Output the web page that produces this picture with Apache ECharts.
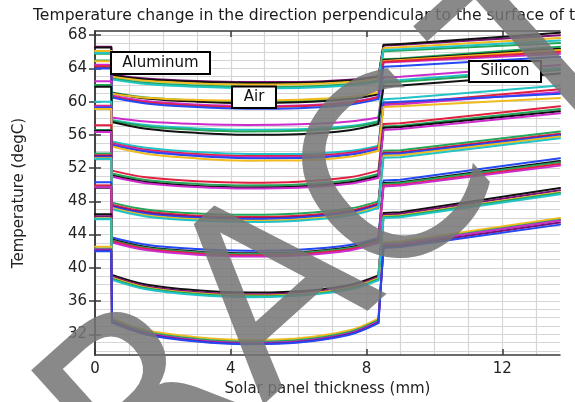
<!DOCTYPE html>
<html>
<head>
<meta charset="utf-8">
<script src="https://cdn.jsdelivr.net/npm/echarts@6/dist/echarts.min.js"></script>
<style>
  html, body { margin: 0; padding: 0; background: #fff; }
  #chart { width: 575px; height: 402px; }
</style>
</head>
<body>
<div id="chart"></div>
<script>
// Sample positions through the panel (mm): aluminium plate, air gap, silicon cell
const alX  = [0, 0.48];
const airX = [0.5, 1.5, 3, 4.5, 6, 7.5, 8.35];
const siX  = [8.5, 9, 13.7];

// Axis ticks and grid positions
const xTicks = [0, 4, 8, 12];
const yTicks = [32, 36, 40, 44, 48, 52, 56, 60, 64, 68];
const xGrid  = [0, 1, 2, 3, 4, 5, 6, 7, 8, 9, 10, 11, 12, 13];
const yGrid  = [30, 31, 32, 33, 34, 35, 36, 37, 38, 39, 40, 41, 42, 43, 44, 45, 46, 47, 48, 49,
                50, 51, 52, 53, 54, 55, 56, 57, 58, 59, 60, 61, 62, 63, 64, 65, 66, 67, 68];

// Line colour of every temperature profile
const profileColors = [
  'purple', 'black', 'yellow', 'green', 'cyan',
  'green', 'black', 'yellow', 'magenta', 'red', 'blue',
  'magenta', 'cyan', 'green', 'black',
  'cyan', 'red', 'magenta', 'blue', 'yellow',
  'red', 'green', 'black', 'magenta',
  'green', 'red', 'purple', 'blue', 'yellow', 'cyan',
  'blue', 'black', 'green', 'red', 'magenta',
  'black', 'purple', 'yellow', 'green', 'cyan',
  'yellow', 'green', 'magenta', 'purple', 'blue'
];

// Temperature in the aluminium plate (degC)
const alTemps = [
  66.6, 66.5, 66.1, 65.75, 65.85,
  64.95, 64.2, 64.85, 64.45, 64.25, 64.0,
  62.45, 61.9, 62.0, 61.8,
  60.0, 59.5, 59.4, 59.3, 59.1,
  57.15, 56.6, 56.5, 56.35,
  53.75, 53.55, 53.45, 53.3, 53.2, 53.1,
  50.3, 49.65, 49.75, 49.9, 49.7,
  46.45, 46.2, 45.95, 45.9, 45.85,
  42.55, 42.3, 42.2, 42.1, 42.0
];

// Temperature across the air gap at airX (degC)
const airTemps = [
  [63.25, 62.79, 62.48, 62.35, 62.37, 62.63, 63.05],
  [63.15, 62.69, 62.38, 62.25, 62.27, 62.53, 62.95],
  [63.0, 62.51, 62.19, 62.05, 62.08, 62.35, 62.8],
  [62.8, 62.27, 61.93, 61.77, 61.8, 62.08, 62.55],
  [62.65, 62.12, 61.78, 61.62, 61.65, 61.93, 62.4],

  [61.1, 60.49, 60.12, 59.97, 60.05, 60.45, 61.05],
  [61.0, 60.38, 60.0, 59.85, 59.92, 60.31, 60.9],
  [60.95, 60.47, 60.21, 60.13, 60.23, 60.59, 61.1],
  [60.75, 60.07, 59.65, 59.47, 59.54, 59.96, 60.6],
  [60.6, 59.93, 59.51, 59.35, 59.43, 59.85, 60.5],
  [60.5, 59.79, 59.34, 59.15, 59.21, 59.63, 60.3],

  [58.1, 57.61, 57.31, 57.2, 57.27, 57.61, 58.1],
  [57.8, 57.18, 56.78, 56.62, 56.68, 57.06, 57.65],
  [57.7, 57.02, 56.6, 56.42, 56.49, 56.91, 57.55],
  [57.55, 56.75, 56.24, 56.02, 56.09, 56.56, 57.3],

  [55.2, 54.45, 53.94, 53.7, 53.7, 54.07, 54.7],
  [55.0, 54.22, 53.7, 53.45, 53.45, 53.84, 54.5],
  [54.9, 54.09, 53.55, 53.3, 53.31, 53.71, 54.4],
  [54.8, 53.99, 53.45, 53.2, 53.21, 53.61, 54.3],
  [54.6, 53.74, 53.17, 52.9, 52.92, 53.36, 54.1],

  [51.7, 50.9, 50.42, 50.25, 50.37, 50.9, 51.7],
  [51.35, 50.57, 50.1, 49.92, 50.03, 50.54, 51.3],
  [51.1, 50.32, 49.85, 49.67, 49.78, 50.29, 51.05],
  [50.95, 50.19, 49.73, 49.55, 49.64, 50.12, 50.85],

  [47.85, 47.02, 46.53, 46.38, 46.53, 47.13, 48.0],
  [47.6, 46.77, 46.28, 46.13, 46.28, 46.88, 47.75],
  [47.45, 46.62, 46.13, 45.98, 46.13, 46.73, 47.6],
  [47.35, 46.52, 46.03, 45.88, 46.03, 46.63, 47.5],
  [47.2, 46.34, 45.84, 45.68, 45.83, 46.45, 47.35],
  [47.05, 46.19, 45.69, 45.53, 45.68, 46.3, 47.2],

  [43.65, 42.79, 42.27, 42.07, 42.19, 42.75, 43.6],
  [43.4, 42.51, 41.98, 41.77, 41.89, 42.48, 43.35],
  [43.3, 42.41, 41.88, 41.67, 41.79, 42.38, 43.25],
  [43.2, 42.29, 41.73, 41.52, 41.65, 42.25, 43.15],
  [43.05, 42.14, 41.58, 41.37, 41.5, 42.1, 43.0],

  [39.15, 37.99, 37.29, 37.02, 37.18, 37.95, 39.1],
  [38.95, 37.79, 37.09, 36.82, 36.98, 37.75, 38.9],
  [38.8, 37.64, 36.94, 36.67, 36.83, 37.6, 38.75],
  [38.7, 37.54, 36.84, 36.57, 36.73, 37.5, 38.65],
  [38.55, 37.42, 36.73, 36.47, 36.63, 37.38, 38.5],

  [33.95, 32.51, 31.65, 31.32, 31.52, 32.48, 33.9],
  [33.75, 32.31, 31.45, 31.12, 31.32, 32.28, 33.7],
  [33.6, 32.16, 31.3, 30.97, 31.17, 32.13, 33.55],
  [33.5, 32.06, 31.2, 30.87, 31.07, 32.03, 33.45],
  [33.4, 31.99, 31.14, 30.82, 31.02, 31.95, 33.35]
];

// Temperature in the silicon layer at siX (degC)
const siTemps = [
  [66.75, 66.85, 68.0], [66.85, 66.95, 68.3], [66.45, 66.55, 67.65], [66.05, 66.15, 67.05], [66.2, 66.3, 67.35],
  [65.1, 65.2, 66.6], [65.0, 65.1, 66.35], [64.9, 65.0, 66.2], [64.7, 64.8, 65.75], [64.8, 64.9, 66.0], [64.2, 64.3, 65.4],
  [62.9, 63.0, 64.4], [62.5, 62.6, 64.05], [62.3, 62.4, 63.8], [61.85, 61.95, 63.4],
  [60.3, 60.4, 61.95], [59.7, 59.8, 61.5], [59.6, 59.7, 61.15], [59.9, 60.0, 60.95], [59.35, 59.45, 60.45],
  [57.3, 57.4, 59.45], [57.0, 57.1, 59.1], [56.85, 56.95, 58.85], [56.6, 56.7, 58.6],
  [54.1, 54.15, 56.4], [53.85, 53.9, 56.15], [53.75, 53.8, 56.0], [53.7, 53.75, 55.95], [53.5, 53.55, 55.8], [53.25, 53.3, 55.6],
  [50.5, 50.6, 53.2], [50.2, 50.3, 52.85], [50.1, 50.2, 52.7], [49.9, 50.0, 52.5], [49.8, 49.9, 52.3],
  [46.6, 46.7, 49.6], [46.4, 46.5, 49.35], [46.2, 46.3, 49.1], [46.1, 46.2, 49.0], [46.0, 46.1, 48.85],
  [43.1, 43.2, 46.0], [42.9, 43.0, 45.8], [42.8, 42.9, 45.7], [42.6, 42.7, 45.45], [42.4, 42.5, 45.2]
];

const palette = {
  blue: '#2448f2', green: '#22a65a', red: '#e0203e', cyan: '#22c3c6',
  magenta: '#cc2ccc', yellow: '#f0bb1e', black: '#111111', purple: '#7c1176'
};

const FONT = '"DejaVu Sans", "Liberation Sans", sans-serif';
const frame = { color: '#3a3a3a', width: 1.5 };
const gridLine = { color: '#d6d6d6', width: 1.2 };
const X_MIN = 0, X_MAX = 13.7, Y_MIN = 29.5, Y_MAX = 68.5;

const series = [];
profileColors.forEach((name, i) => {
  const base = {
    type: 'line', xAxisIndex: 0, yAxisIndex: 0, showSymbol: false, silent: true,
    animation: false, clip: true,
    lineStyle: { color: palette[name], width: 2, join: 'round', cap: 'round' }
  };
  // aluminium plate and the step into the air gap
  series.push(Object.assign({}, base, {
    data: [[alX[0], alTemps[i]], [alX[1], alTemps[i]], [airX[0], airTemps[i][0]]]
  }));
  // air gap profile
  series.push(Object.assign({}, base, {
    smooth: 0.35,
    data: airX.map((x, k) => [x, airTemps[i][k]])
  }));
  // step into the silicon and the silicon profile
  series.push(Object.assign({}, base, {
    data: [[airX[airX.length - 1], airTemps[i][airX.length - 1]]].concat(siX.map((x, k) => [x, siTemps[i][k]]))
  }));
});

const labelStyle = { fontSize: 15, color: '#222', fontFamily: FONT };

// Diagonal stamp: letters laid out along a line tilted by 42 degrees
const STAMP_ANGLE = 42 * Math.PI / 180;
const stampLetters = ['R', 'A', 'C', 'T'];
const stampOffsets = [-171, 0, 161, 358];   // distance along the tilted line (px)
const stampOrigin = [282, 301];
const stamp = stampLetters.map((ch, i) => ({
  type: 'text', z: 200,
  x: stampOrigin[0] + stampOffsets[i] * Math.cos(STAMP_ANGLE),
  y: stampOrigin[1] - stampOffsets[i] * Math.sin(STAMP_ANGLE),
  rotation: STAMP_ANGLE,
  style: { text: ch, fill: 'rgba(118,118,118,0.86)', font: '248px ' + FONT,
           align: 'center', verticalAlign: 'middle' }
}));

const chart = echarts.init(document.getElementById('chart'), null, { renderer: 'canvas' });
chart.setOption({
  animation: false,
  backgroundColor: '#fff',
  title: {
    text: 'Temperature change in the direction perpendicular to the surface of the solar panel',
    left: 28, top: 3,
    textStyle: { fontSize: 15.6, fontWeight: 'normal', color: '#1a1a1a', fontFamily: FONT }
  },
  grid: { left: 95, top: 31, width: 465, height: 328, containLabel: false },
  xAxis: [
    { // grid lines + bottom frame
      type: 'value', min: X_MIN, max: X_MAX, position: 'bottom',
      axisLine: { show: true, lineStyle: frame },
      axisTick: { show: false, customValues: xGrid },
      axisLabel: { show: false },
      splitLine: { show: true, lineStyle: gridLine }
    },
    { // labelled ticks
      type: 'value', min: X_MIN, max: X_MAX, position: 'bottom',
      name: 'Solar panel thickness (mm)', nameLocation: 'middle', nameGap: 21,
      nameTextStyle: labelStyle,
      axisLine: { show: false },
      axisTick: { show: true, inside: true, length: 6, customValues: xTicks, lineStyle: frame },
      axisLabel: Object.assign({ customValues: xTicks, margin: 7 }, labelStyle),
      splitLine: { show: false }
    },
    { // top frame
      type: 'value', min: X_MIN, max: X_MAX, position: 'top',
      axisLine: { show: true, lineStyle: frame },
      axisTick: { show: true, inside: true, length: 6, customValues: xTicks, lineStyle: frame },
      axisLabel: { show: false },
      splitLine: { show: false }
    }
  ],
  yAxis: [
    {
      type: 'value', min: Y_MIN, max: Y_MAX, position: 'left',
      axisLine: { show: true, lineStyle: frame },
      axisTick: { show: false, customValues: yGrid },
      axisLabel: { show: false },
      splitLine: { show: true, lineStyle: gridLine }
    },
    {
      type: 'value', min: Y_MIN, max: Y_MAX, position: 'left',
      name: 'Temperature (degC)', nameLocation: 'middle', nameGap: 68,
      nameTextStyle: labelStyle,
      axisLine: { show: false },
      axisTick: { show: true, inside: true, length: 6, customValues: yTicks, lineStyle: frame },
      axisLabel: Object.assign({ customValues: yTicks, margin: 8 }, labelStyle),
      splitLine: { show: false }
    },
    {
      type: 'value', min: Y_MIN, max: Y_MAX, position: 'right',
      axisLine: { show: true, lineStyle: frame },
      axisTick: { show: true, inside: true, length: 6, customValues: yTicks, lineStyle: frame },
      axisLabel: { show: false },
      splitLine: { show: false }
    }
  ],
  series: series,
  graphic: [
    { type: 'rect', z: 100, shape: { x: 111, y: 52, width: 99, height: 22 },
      style: { fill: '#fff', stroke: '#000', lineWidth: 2 } },
    { type: 'text', z: 101, x: 160.5, y: 63,
      style: { text: 'Aluminum', fill: '#111', font: '15px ' + FONT, align: 'center', verticalAlign: 'middle' } },
    { type: 'rect', z: 100, shape: { x: 232, y: 86.5, width: 44, height: 21.5 },
      style: { fill: '#fff', stroke: '#000', lineWidth: 2 } },
    { type: 'text', z: 101, x: 254, y: 97.5,
      style: { text: 'Air', fill: '#111', font: '15px ' + FONT, align: 'center', verticalAlign: 'middle' } },
    { type: 'rect', z: 100, shape: { x: 469, y: 61, width: 72, height: 21 },
      style: { fill: '#fff', stroke: '#000', lineWidth: 2 } },
    { type: 'text', z: 101, x: 505, y: 71.5,
      style: { text: 'Silicon', fill: '#111', font: '15px ' + FONT, align: 'center', verticalAlign: 'middle' } }
  ].concat(stamp)
});
</script>
</body>
</html>
